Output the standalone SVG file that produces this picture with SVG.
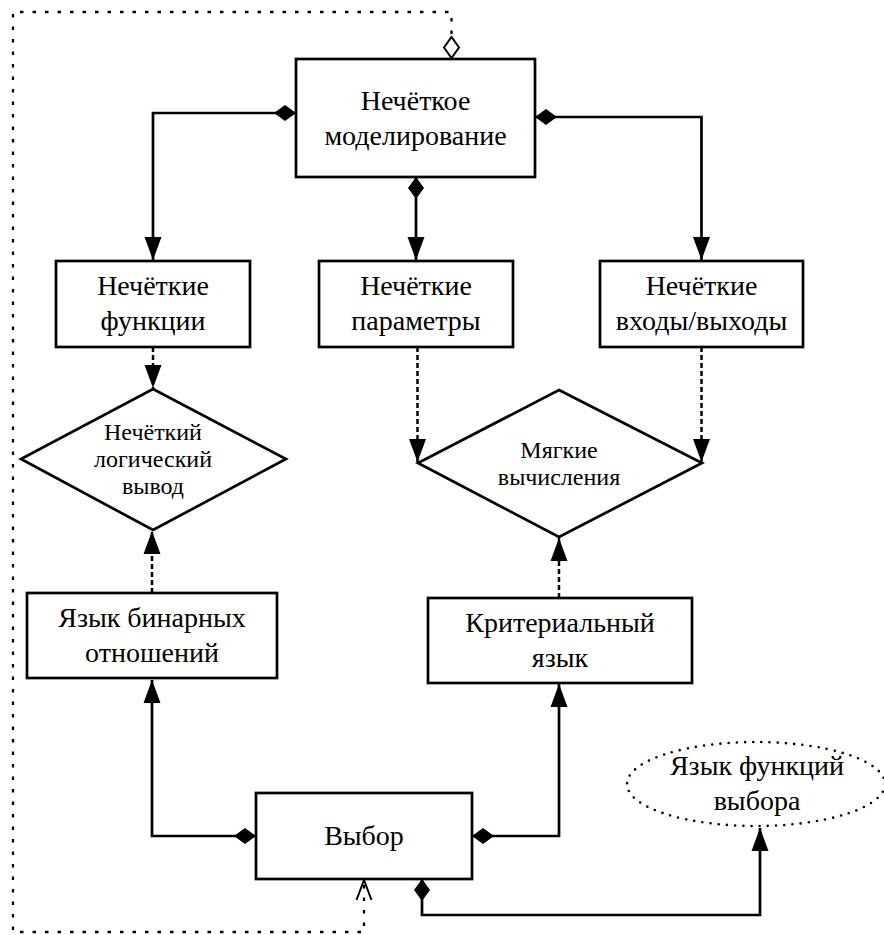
<svg xmlns="http://www.w3.org/2000/svg" width="884" height="935" viewBox="0 0 884 935">
<style>
.box{fill:#fff;stroke:#000;stroke-width:2.7}
.t{font-family:"Liberation Serif","Times New Roman",serif;font-size:28px;fill:#000;text-anchor:middle}
.ts{font-family:"Liberation Serif","Times New Roman",serif;font-size:24px;fill:#000;text-anchor:middle}
.solid{fill:none;stroke:#000;stroke-width:2.7}
.dash{fill:none;stroke:#000;stroke-width:2.5;stroke-dasharray:5 3}
.dot{fill:none;stroke:#000;stroke-width:2.3;stroke-dasharray:3.5 9}
</style>
<defs>
<marker id="dia" markerUnits="userSpaceOnUse" orient="auto" refX="0" refY="0" markerWidth="30" markerHeight="30" overflow="visible">
<path d="M0,0 L11,-8 L22,0 L11,8 Z" fill="#000"/>
</marker>
<marker id="odia" markerUnits="userSpaceOnUse" orient="auto" refX="0" refY="0" markerWidth="30" markerHeight="30" overflow="visible">
<path d="M1,0 L11.5,-7.5 L22,0 L11.5,7.5 Z" fill="#fff" stroke="#000" stroke-width="2"/>
</marker>
<marker id="arr" markerUnits="userSpaceOnUse" orient="auto" refX="0" refY="0" markerWidth="30" markerHeight="30" overflow="visible">
<path d="M-23,-8.5 L0,0 L-23,8.5 Z" fill="#000"/>
</marker>
<marker id="oarr" markerUnits="userSpaceOnUse" orient="auto" refX="0" refY="0" markerWidth="30" markerHeight="30" overflow="visible">
<path d="M-20,-7.5 L0,0 L-20,7.5" fill="none" stroke="#000" stroke-width="2"/>
</marker>
</defs>
<g id="connectors">
<path class="solid" d="M296,113 H153 V260" marker-start="url(#dia)" marker-end="url(#arr)"/>
<path class="solid" d="M535,117 H701.5 V260" marker-start="url(#dia)" marker-end="url(#arr)"/>
<path class="solid" d="M416,177 V260" marker-start="url(#dia)" marker-end="url(#arr)"/>
<path class="dash" d="M153,347 V388" marker-end="url(#arr)"/>
<path class="dash" d="M417.5,347 V462" marker-end="url(#arr)"/>
<path class="dash" d="M701.5,347 V462" marker-end="url(#arr)"/>
<path class="dash" d="M152,593 V531" marker-end="url(#arr)"/>
<path class="dash" d="M559,598 V538" marker-end="url(#arr)"/>
<path class="solid" d="M256,836 H152 V680" marker-start="url(#dia)" marker-end="url(#arr)"/>
<path class="solid" d="M472,836 H559 V684" marker-start="url(#dia)" marker-end="url(#arr)"/>
<path class="solid" d="M422,879 V915 H760 V828" marker-start="url(#dia)" marker-end="url(#arr)"/>
<path class="dot" d="M451.5,59 V12 H13 V932 H364 V880" marker-start="url(#odia)" marker-end="url(#oarr)"/>
</g>
<g id="n1"><rect class="box" x="296" y="59" width="239" height="118"/><text class="t" x="415.5" y="110">Нечёткое</text><text class="t" x="415.5" y="145">моделирование</text></g>
<g id="n2"><rect class="box" x="56" y="261" width="194" height="86"/><text class="t" x="153" y="295">Нечёткие</text><text class="t" x="153" y="330">функции</text></g>
<g id="n3"><rect class="box" x="319" y="261" width="194" height="86"/><text class="t" x="416" y="295">Нечёткие</text><text class="t" x="416" y="330">параметры</text></g>
<g id="n4"><rect class="box" x="600" y="261" width="203" height="86"/><text class="t" x="701.5" y="295">Нечёткие</text><text class="t" x="701.5" y="330">входы/выходы</text></g>
<g id="d1"><polygon class="box" points="153,389 286,459 153,530 21,459"/><text class="ts" x="153" y="440">Нечёткий</text><text class="ts" x="153" y="467">логический</text><text class="ts" x="153" y="494">вывод</text></g>
<g id="d2"><polygon class="box" points="559,390 702,463 559,537 418,463"/><text class="ts" x="559" y="458">Мягкие</text><text class="ts" x="559" y="485">вычисления</text></g>
<g id="n5"><rect class="box" x="27" y="593" width="250" height="85"/><text class="t" x="152" y="627">Язык бинарных</text><text class="t" x="152" y="662">отношений</text></g>
<g id="n6"><rect class="box" x="428" y="598" width="264" height="85"/><text class="t" x="560" y="632">Критериальный</text><text class="t" x="560" y="667">язык</text></g>
<g id="n7"><rect class="box" x="256" y="793" width="216" height="86"/><text class="t" x="364" y="845">Выбор</text></g>
<g id="e1"><ellipse cx="756" cy="784" rx="129" ry="42" fill="none" stroke="#000" stroke-width="2.6" stroke-linecap="round" stroke-dasharray="0 8.2"/><text class="t" x="757" y="775">Язык функций</text><text class="t" x="757" y="810">выбора</text></g>
</svg>
